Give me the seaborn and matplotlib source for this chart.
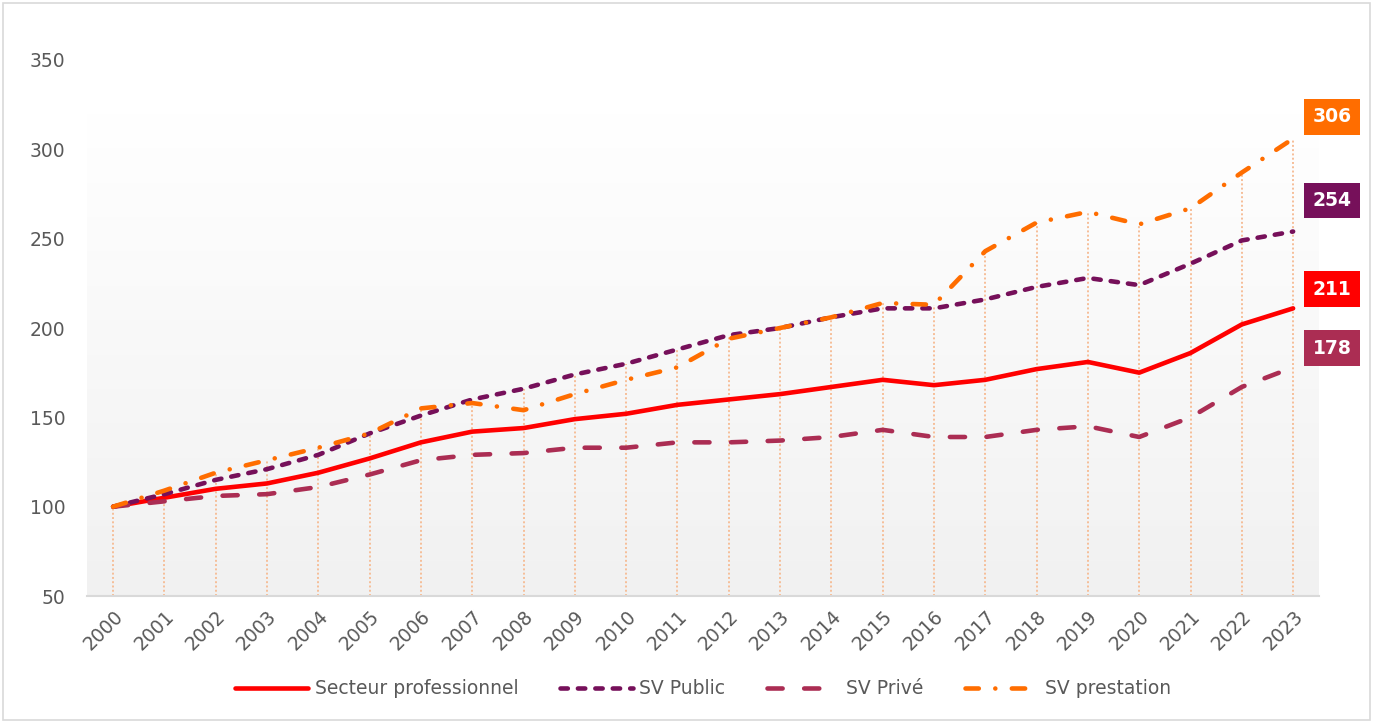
import numpy as np
import pandas as pd
import seaborn as sns
from matplotlib import pyplot as plt
import matplotlib.patches as mpatches
from matplotlib.colors import LinearSegmentedColormap

years = list(range(2000, 2024))
pro = [100, 105, 110, 113, 119, 127, 136, 142, 144, 149, 152, 157, 160, 163, 167, 171, 168, 171, 177, 181, 175, 186, 202, 211]
public = [100, 107, 115, 121, 129, 141, 151, 160, 166, 174, 180, 188, 196, 200, 206, 211, 211, 216, 223, 228, 224, 236, 249, 254]
prive = [100, 103, 106, 107, 111, 118, 126, 129, 130, 133, 133, 136, 136, 137, 139, 143, 139, 139, 143, 145, 139, 150, 167, 178]
prestation = [100, 109, 119, 126, 133, 141, 155, 158, 154, 163, 171, 178, 194, 200, 206, 214, 213, 243, 259, 265, 258, 267, 287, 306]

series_names = ["Secteur professionnel", "SV Public", "SV Privé", "SV prestation"]
colors = ["#FF0000", "#76105A", "#AB2D53", "#FF6D00"]
dash_styles = ["", (1.6, 2.2), (3.3, 4.7), (2.9, 3.6, 0.01, 3.6)]
label_shift = [-19, -31, -19, -22]  # px, moves the end labels up like in the excel chart

df = pd.DataFrame({"year": years, series_names[0]: pro, series_names[1]: public,
                   series_names[2]: prive, series_names[3]: prestation})
long_df = df.melt(id_vars="year", var_name="serie", value_name="val")

sns.set_theme(style="white")
plt.rcParams['font.family'] = ['DejaVu Sans']

fig = plt.figure(figsize=(13.73, 7.22), dpi=100)
ax = fig.add_axes([0.0637, 0.1745, 0.8968, 0.7424])

# gradient background of the plot area (white on top, light grey at the bottom)
grad = np.linspace(0, 1, 256).reshape(-1, 1)
cmap = LinearSegmentedColormap.from_list("g", ["#F1F1F1", "#FFFFFF"])
ax.imshow(grad, extent=(1999.5, 2023.5, 50, 320), aspect='auto', origin='lower',
          cmap=cmap, zorder=0)

# drop lines
tops = df[series_names].max(axis=1)
ax.vlines(df["year"], 50, tops, colors="#F6BE98", linestyles=(0, (1, 1.2)), lw=1.4, zorder=1)

sns.lineplot(data=long_df, x="year", y="val", hue="serie", style="serie",
             hue_order=series_names, style_order=series_names,
             palette=dict(zip(series_names, colors)),
             dashes=dict(zip(series_names, dash_styles)),
             linewidth=3.3, ax=ax, zorder=3, legend=True)
for ln in ax.get_lines():
    ln.set_dash_capstyle('round')
    ln.set_solid_capstyle('round')

ax.set_xlim(1999.5, 2023.5)
ax.set_ylim(50, 350)
ax.set_yticks(range(50, 351, 50))
ax.set_xticks(years)
ax.set_xticklabels([str(y) for y in years], rotation=45, ha='right', rotation_mode='anchor')
ax.tick_params(axis='both', colors="#595959", labelsize=13.5, length=0)
ax.tick_params(axis='y', pad=16)
ax.tick_params(axis='x', pad=8)
ax.set_xlabel("")
ax.set_ylabel("")
for s in ["top", "right", "left"]:
    ax.spines[s].set_visible(False)
ax.spines["bottom"].set_color("#D9D9D9")
ax.spines["bottom"].set_linewidth(1.5)

# end labels
for name, c, dy in zip(series_names, colors, label_shift):
    v = df[name].iloc[-1]
    ax.annotate(str(v), xy=(years[-1], v), xytext=(39, -dy), textcoords='offset pixels',
                ha='center', va='center', color='white', fontsize=13.5, fontweight='bold',
                bbox=dict(boxstyle='square,pad=0.45', fc=c, ec='none'), annotation_clip=False)

handles, labels = ax.get_legend_handles_labels()
ax.legend_.remove()
leg = fig.legend(handles, labels, loc='center', bbox_to_anchor=(0.512, 0.046), ncol=4,
                 frameon=False, fontsize=13.5, handlelength=3.9, handletextpad=0.35,
                 columnspacing=2.2)
for t in leg.get_texts():
    t.set_color("#595959")

fig.patches.append(mpatches.Rectangle((0.002, 0.003), 0.996, 0.993, transform=fig.transFigure,
                                      fill=False, ec="#D9D9D9", lw=1.2))

fig.savefig("out.png", dpi=100, facecolor='white')
